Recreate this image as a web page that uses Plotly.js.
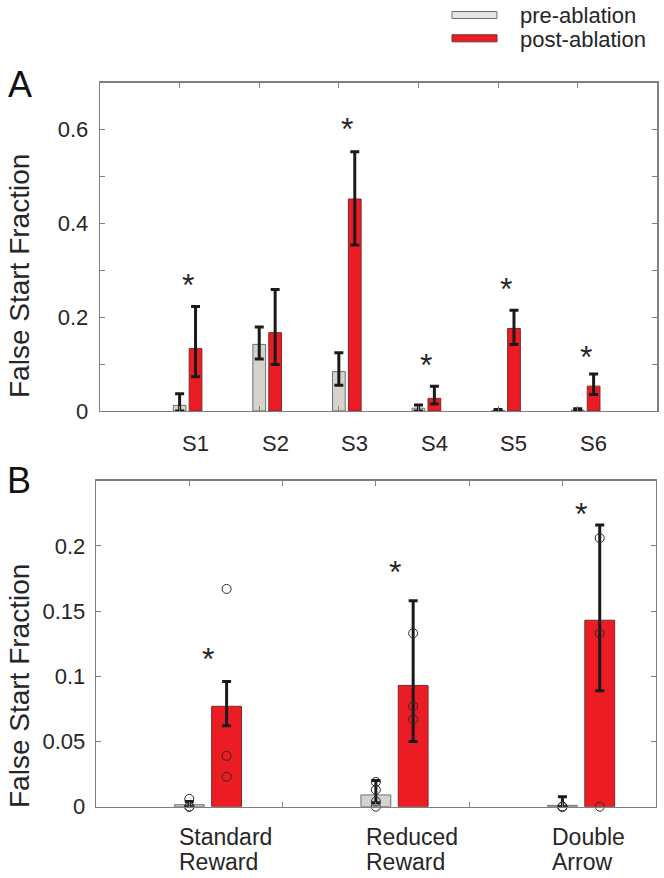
<!DOCTYPE html>
<html>
<head>
<meta charset="utf-8">
<script src="https://cdn.plot.ly/plotly-3.0.1.min.js"></script>
<style>
  html, body { margin: 0; padding: 0; background: #fff; }
  #chart { width: 664px; height: 878px; }
</style>
</head>
<body>
<div id="chart"></div>
<script>
// ---------- Panel A data ----------
const subjects = ['S1', 'S2', 'S3', 'S4', 'S5', 'S6'];
const preA = [0.012, 0.142, 0.084, 0.006, 0.001, 0.002];
const preAErrUp = [0.025, 0.037, 0.040, 0.007, 0.002, 0.003];
const preAErrDown = [0.012, 0.031, 0.029, 0.006, 0.001, 0.002];
const postA = [0.133, 0.167, 0.452, 0.027, 0.176, 0.053];
const postAErrUp = [0.090, 0.092, 0.101, 0.026, 0.039, 0.026];
const postAErrDown = [0.060, 0.068, 0.098, 0.012, 0.034, 0.018];
const starsA = [0.283, null, 0.616, 0.112, 0.275, 0.130];

// ---------- Panel B data ----------
const conditions = ['Standard Reward', 'Reduced Reward', 'Double Arrow'];
const preB = [0.0015, 0.009, 0.001];
const preBErrUp = [0.0025, 0.011, 0.0066];
const preBErrDown = [0.0015, 0.006, 0.001];
const postB = [0.077, 0.093, 0.143];
const postBErrUp = [0.019, 0.065, 0.073];
const postBErrDown = [0.015, 0.043, 0.054];
const prePointsB = [[0.006, 0, 0], [0.019, 0.013, 0.004, 0], [0, 0, 0]];
const postPointsB = [[0.167, 0.039, 0.023], [0.133, 0.077, 0.067], [0.206, 0.133, 0]];
const starsB = [0.119, 0.185, 0.230];

const seriesNames = ['pre-ablation', 'post-ablation'];
const yTitle = 'False Start Fraction';

// ---------- styling ----------
const W = 664, H = 878;
const FONT = 'Liberation Sans, Arial, Helvetica, sans-serif';
const TXT = '#262626';
const AX = '#7f7f7f';
const GRAY = '#d6d3cc', GRAY_LINE = '#6e6e6e';
const RED = '#ec1c24', RED_LINE = '#7a2a2a';
const px = v => v / W;
const py = v => 1 - v / H;

const xA = subjects.map((_, i) => i + 1);
const xB = conditions.map((_, i) => 2 * i + 1);
const offA = 0.2, offB = 0.4;

function errBar(up, down, thick) {
  return { type: 'data', symmetric: false, array: up, arrayminus: down,
           color: '#1a1a1a', thickness: thick, width: 4.5 };
}

const traces = [
  { type: 'bar', name: seriesNames[0], x: xA, y: preA, width: 0.16,
    marker: { color: GRAY, line: { color: GRAY_LINE, width: 1 } },
    error_y: errBar(preAErrUp, preAErrDown, 3), xaxis: 'x', yaxis: 'y', showlegend: false },
  { type: 'bar', name: seriesNames[1], x: xA.map(v => v + offA), y: postA, width: 0.16,
    marker: { color: RED, line: { color: RED_LINE, width: 1 } },
    error_y: errBar(postAErrUp, postAErrDown, 3), xaxis: 'x', yaxis: 'y', showlegend: false },
  { type: 'bar', name: seriesNames[0], x: xB, y: preB, width: 0.32,
    marker: { color: GRAY, line: { color: GRAY_LINE, width: 1 } },
    error_y: errBar(preBErrUp, preBErrDown, 3), xaxis: 'x2', yaxis: 'y2', showlegend: false },
  { type: 'bar', name: seriesNames[1], x: xB.map(v => v + offB), y: postB, width: 0.32,
    marker: { color: RED, line: { color: RED_LINE, width: 1 } },
    error_y: errBar(postBErrUp, postBErrDown, 3), xaxis: 'x2', yaxis: 'y2', showlegend: false }
];

// individual points in panel B
function pointsTrace(groups, off) {
  const xs = [], ys = [];
  groups.forEach((g, i) => g.forEach(v => { xs.push(xB[i] + off); ys.push(v); }));
  return { type: 'scatter', mode: 'markers', x: xs, y: ys, xaxis: 'x2', yaxis: 'y2',
           marker: { symbol: 'circle-open', size: 9, color: '#2a2a2a', line: { width: 1, color: '#2a2a2a' } },
           showlegend: false, hoverinfo: 'skip', cliponaxis: false };
}
traces.push(pointsTrace(prePointsB, 0));
traces.push(pointsTrace(postPointsB, offB));

const annotations = [];
const starFont = { family: FONT, size: 32, color: TXT };
const C = { xanchor: 'center', yanchor: 'middle', showarrow: false };
starsA.forEach((s, i) => {
  if (s === null) return;
  annotations.push(Object.assign({}, C, { xref: 'x', yref: 'y', x: xA[i] + offA / 2, y: s, text: '*',
                     font: starFont, yshift: -7 }));
});
starsB.forEach((s, i) => {
  annotations.push(Object.assign({}, C, { xref: 'x2', yref: 'y2', x: xB[i] + offB / 2, y: s, text: '*',
                     font: starFont, yshift: -7 }));
});
// category labels, panel A
subjects.forEach((s, i) => {
  annotations.push(Object.assign({}, C, { xref: 'x', yref: 'y', x: xA[i] + offA, y: 0, yanchor: 'top', yshift: -18,
                     text: s, font: { family: FONT, size: 22, color: TXT } }));
});
// category labels, panel B (two lines, left aligned)
conditions.forEach((c, i) => {
  c.split(' ').forEach((w, j) => {
    annotations.push(Object.assign({}, C, { xref: 'x2', yref: 'paper', x: xB[i] - 0.13, xanchor: 'left',
                       y: py(836.7 + 25 * j), text: w, font: { family: FONT, size: 23, color: TXT } }));
  });
});
// y titles
[276, 686].forEach(cy => {
  annotations.push(Object.assign({}, C, { xref: 'paper', yref: 'paper', x: px(19), y: py(cy), text: yTitle,
                     textangle: -90, font: { family: FONT, size: 28, color: TXT } }));
});
// panel letters
annotations.push(Object.assign({}, C, { xref: 'paper', yref: 'paper', x: px(19.5), y: py(85), text: 'A',
                   font: { family: FONT, size: 36, color: '#111' } }));
annotations.push(Object.assign({}, C, { xref: 'paper', yref: 'paper', x: px(18.5), y: py(481), text: 'B',
                   font: { family: FONT, size: 36, color: '#111' } }));
// legend text
annotations.push(Object.assign({}, C, { xref: 'paper', yref: 'paper', x: px(518), xanchor: 'left', y: py(16),
                   text: seriesNames[0], font: { family: FONT, size: 22, color: TXT } }));
annotations.push(Object.assign({}, C, { xref: 'paper', yref: 'paper', x: px(518), xanchor: 'left', y: py(39.5),
                   text: seriesNames[1], font: { family: FONT, size: 22, color: TXT } }));

const shapes = [
  { type: 'rect', xref: 'paper', yref: 'paper', x0: px(452), x1: px(497), y0: py(18.5), y1: py(11.5),
    fillcolor: '#e6e6e6', line: { color: GRAY_LINE, width: 1 } },
  { type: 'rect', xref: 'paper', yref: 'paper', x0: px(452), x1: px(497), y0: py(41.8), y1: py(34.8),
    fillcolor: RED, line: { color: RED_LINE, width: 1 } }
];

const tickFont = { family: FONT, size: 22, color: TXT };
const axisCommon = { showline: true, linecolor: AX, linewidth: 1.3, mirror: 'ticks', ticks: 'inside',
                     ticklen: 5, tickcolor: AX, tickwidth: 1, showgrid: false, zeroline: false,
                     fixedrange: true, tickfont: tickFont };

const layout = {
  width: W, height: H, margin: { l: 0, r: 0, t: 0, b: 0 },
  paper_bgcolor: '#fff', plot_bgcolor: '#fff',
  barmode: 'overlay', showlegend: false,
  font: { family: FONT, color: TXT },
  xaxis: Object.assign({}, axisCommon, { domain: [px(100), px(657.3)], range: [0, 7], anchor: 'y',
          tickvals: xA, showticklabels: false }),
  yaxis: Object.assign({}, axisCommon, { domain: [py(411), py(82.7)], range: [0, 0.7], anchor: 'x',
          tickvals: [0, 0.1, 0.2, 0.3, 0.4, 0.5, 0.6, 0.7],
          ticktext: ['0', '', '0.2', '', '0.4', '', '0.6', ''], ticklabelstandoff: 6 }),
  xaxis2: Object.assign({}, axisCommon, { domain: [px(96), px(655.7)], range: [0, 6], anchor: 'y2',
          tickvals: [1, 2, 3, 4, 5], showticklabels: false }),
  yaxis2: Object.assign({}, axisCommon, { domain: [py(806.7), py(480.7)], range: [0, 0.25], anchor: 'x2',
          tickvals: [0, 0.05, 0.1, 0.15, 0.2], ticktext: ['0', '0.05', '0.1', '0.15', '0.2'],
          ticklabelstandoff: 5 }),
  annotations: annotations,
  shapes: shapes
};

Plotly.newPlot('chart', traces, layout, { displayModeBar: false, staticPlot: true });
</script>
</body>
</html>
